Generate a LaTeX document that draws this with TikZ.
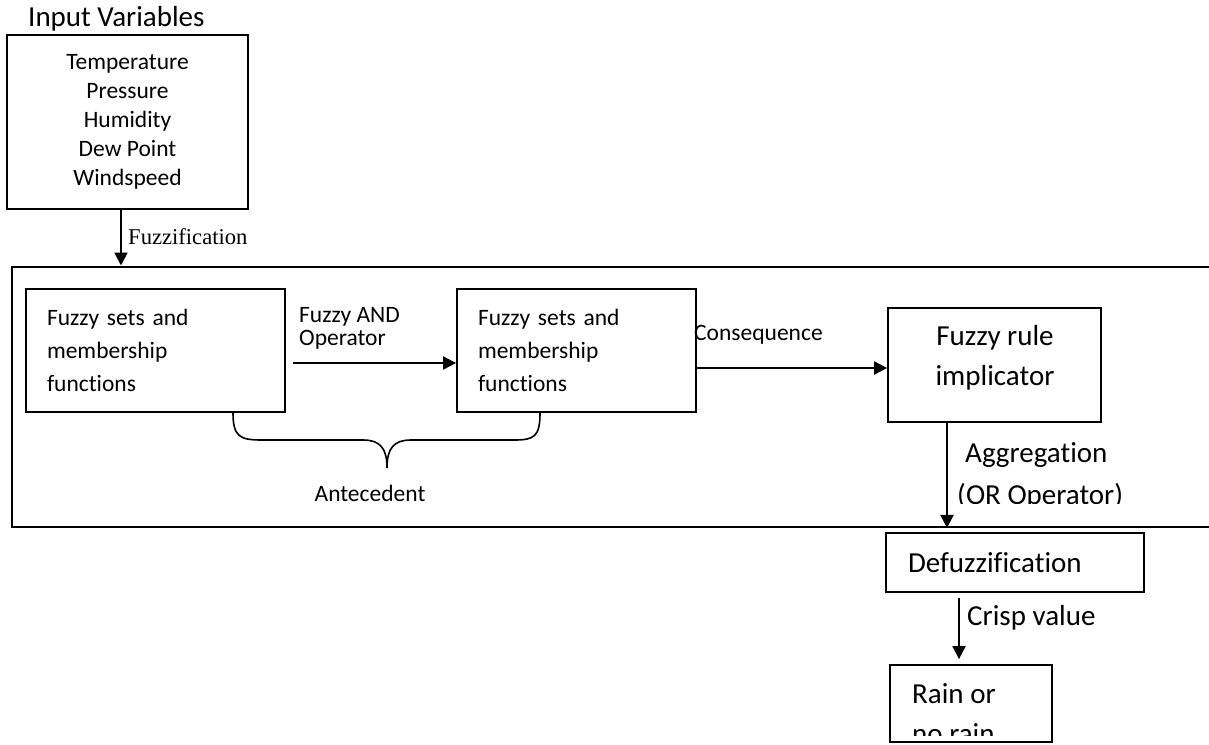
\documentclass[tikz,border=0pt]{standalone}
\usepackage{fontspec}
\setmainfont{Carlito}[Ligatures=NoCommon]
\newfontfamily\seriffont{Liberation Serif}[Ligatures=NoCommon]
\usetikzlibrary{arrows.meta}
\begin{document}
\begin{tikzpicture}[x=1pt,y=-1pt,
  box/.style={draw, line width=1.8pt, inner sep=0pt},
  arr/.style={line width=1.9pt, -{Triangle[length=13pt,width=13pt]}},
  sm/.style={font=\fontsize{23.5}{29}\selectfont},
  lg/.style={font=\fontsize{29}{40.5}\selectfont},
  plain/.style={inner sep=0pt}
]
\useasboundingbox (0,0) rectangle (1209,744);
\clip (0,0) rectangle (1209,744);

% title and input box
\node[lg, plain, anchor=base west] (title) at (28,26.5) {Input Variables};
\node[box, sm, minimum width=241pt, minimum height=174pt, align=center] (inbox) at (127.5,122)
  {Temperature\\Pressure\\Humidity\\Dew Point\\Windspeed};

% outer frame
\node[draw, line width=2.4pt, minimum width=1300pt, minimum height=260pt, anchor=north west, inner sep=0pt] (frame) at (10.5,265.5) {};

% fuzzification
\draw[arr] ([shift={(-6.5,0)}]inbox.south) -- ([shift={(-6.5,0)}]inbox.south |- frame.north);
\node[plain, anchor=west, font=\seriffont\fontsize{22.6}{27}\selectfont] (fzl) at (128,237) {Fuzzification};

% fuzzy set boxes
\node[box, font=\fontsize{23.5}{33}\selectfont, text width=217pt, inner xsep=21pt, minimum height=123pt, align=left] (b1) at (155.5,350.5)
  {Fuzzy sets and\\membership\\functions};
\node[box, font=\fontsize{23.5}{33}\selectfont, text width=197pt, inner xsep=21pt, minimum height=123pt, align=left] (b2) at (576.5,350.5)
  {Fuzzy sets and\\membership\\functions};

\draw[arr] ([shift={(7,12.5)}]b1.east) -- ([shift={(0,12.5)}]b2.west);
\node[plain, font=\fontsize{23.5}{23}\selectfont, align=left, anchor=west] (andl) at (299,328) {Fuzzy AND\\Operator};

% implicator
\node[box, minimum width=213pt, minimum height=114pt] (imp) at (994.5,365) {};
\node[lg, align=center, plain] (impt) at (995,358) {Fuzzy rule\\implicator};

\draw[arr] ([shift={(0,17.5)}]b2.east) -- ([shift={(0,17.5)}]b2.east -| imp.west);
\node[sm, plain, anchor=west] (cons) at (694,335) {Consequence};

% brace
\draw[line width=1.6pt] ([shift={(77.5,0)}]b1.south)
  .. controls +(0,24) and (240,440) .. (262,440) -- (363,440)
  .. controls (380,440) and (387,448) .. (387,468)
  .. controls (387,448) and (394,440) .. (411,440) -- (514,440)
  .. controls (534,440) and ([shift={(-36.5,24)}]b2.south) .. ([shift={(-36.5,0)}]b2.south);
\node[sm, plain] (ante) at (370,493) {Antecedent};

% aggregation
\draw[arr] ([shift={(-47.5,0)}]imp.south) -- ([shift={(-47.5,0)}]imp.south |- frame.south);
\node[lg, plain, anchor=base west] (agg) at (965,462) {Aggregation};
\begin{scope}
  \clip (900,470) rectangle (1209,503);
  \node[lg, plain, anchor=base west] (orop) at (957,504) {(OR Operator)};
\end{scope}

% defuzzification
\node[box, lg, text width=214pt, inner xsep=22pt, minimum height=59pt, align=left] (dfz) at (1015,562.5) {Defuzzification};

% rain box
\node[box, minimum width=162pt, minimum height=77pt] (rain) at (971,703.5) {};
\node[lg, plain, anchor=base west] (r1) at (912,703) {Rain or};
\begin{scope}
  \clip (891,706) rectangle (1051,735);
  \node[lg, plain, anchor=base west] (r2) at (912,743.5) {no rain};
\end{scope}

\draw[arr] ([shift={(-56,5)}]dfz.south) -- ([shift={(-12,-5)}]rain.north);
\node[lg, plain, anchor=west] (crisp) at (967,618) {Crisp value};
\end{tikzpicture}
\end{document}
